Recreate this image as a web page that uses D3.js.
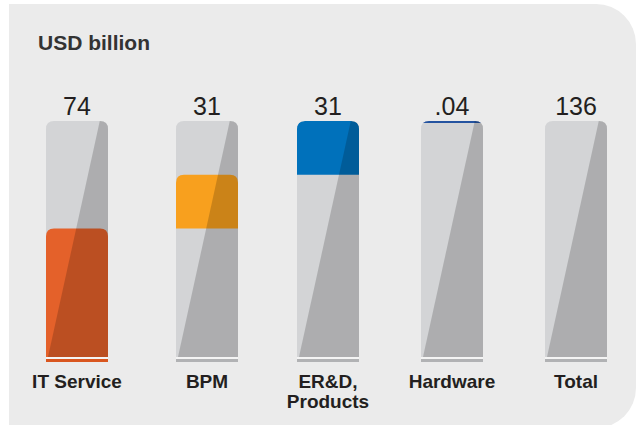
<!DOCTYPE html>
<html>
<head>
<meta charset="utf-8">
<script src="https://cdn.jsdelivr.net/npm/d3@7"></script>
<style>
  html, body { margin: 0; padding: 0; background: #ffffff; }
  svg { display: block; }
</style>
</head>
<body>
<svg id="chart" width="637" height="425"></svg>
<script>
// ---- data ----
const categories = ["IT Service", "BPM", "ER&D, Products", "Hardware", "Total"];
const values = [74, 31, 31, 0.04, 136];
const valueLabels = ["74", "31", "31", ".04", "136"];
const isTotal = [false, false, false, false, true];
const title = "USD billion";

// ---- styles / layout ----
const segColors = ["#e4612a", "#f8a01e", "#0071bb", "#2453a0", null];
const baseColors = ["#d9561f", "#b1b2b4", "#b1b2b4", "#b1b2b4", "#b1b2b4"];
const barCenters = [77, 207, 328, 452, 576];
const fontFamily = "'Liberation Sans', Arial, Helvetica, sans-serif";

const svg = d3.select("#chart");

// background panel
svg.append("path")
  .attr("d", "M9,4 H596 A40,40 0 0 1 636,44 V388 A40,40 0 0 1 596,428 H9 Z")
  .attr("fill", "#ebebeb");

const total = values[values.length - 1];
const x = d3.scaleOrdinal().domain(categories).range(barCenters);
const y = d3.scaleLinear().domain([0, total]).range([357, 121]);
const barW = 62, r = 8;

// cumulative offsets for waterfall
let cum = 0;
const data = categories.map((c, i) => {
  const d = { cat: c, value: values[i], label: valueLabels[i], i, total: isTotal[i] };
  if (!isTotal[i]) { d.start = cum; cum += values[i]; d.end = cum; }
  else { d.start = 0; d.end = values[i]; }
  return d;
});

function topRounded(x0, y0, w, h, rr) {
  rr = Math.min(rr, h, w / 2);
  return `M${x0},${y0 + h} V${y0 + rr} Q${x0},${y0} ${x0 + rr},${y0} H${x0 + w - rr} Q${x0 + w},${y0} ${x0 + w},${y0 + rr} V${y0 + h} Z`;
}

const defs = svg.append("defs");

data.forEach(d => {
  const cx = x(d.cat);
  const left = cx - barW / 2;
  const top = y(total), bottom = y(0);
  const g = svg.append("g");

  const clipId = "clip" + d.i;
  defs.append("clipPath").attr("id", clipId)
    .append("path").attr("d", topRounded(left, top, barW, bottom - top, r));

  const inner = g.append("g").attr("clip-path", `url(#${clipId})`);
  // tube
  inner.append("rect")
    .attr("x", left).attr("y", top).attr("width", barW).attr("height", bottom - top)
    .attr("fill", "#d3d4d6");

  // coloured segment
  if (!d.total && segColors[d.i]) {
    const y1 = y(d.end), y0 = y(d.start);
    const h = Math.max(2, y0 - y1);
    const segTop = Math.max(top, y1);
    inner.append("path")
      .attr("d", topRounded(left, segTop, barW, h, r))
      .attr("fill", segColors[d.i]);
  }

  // diagonal shading
  inner.append("path")
    .attr("d", `M${left + 54},${top - 1} H${left + barW + 1} V${bottom} H${left + 2} Z`)
    .attr("fill", "#000").attr("fill-opacity", 0.18);

  // gap + base line
  g.append("rect").attr("x", left).attr("y", bottom).attr("width", barW).attr("height", 2)
    .attr("fill", "#f4f4f4");
  g.append("rect").attr("x", left).attr("y", bottom + 2).attr("width", barW).attr("height", 3)
    .attr("fill", baseColors[d.i]);

  // value label
  svg.append("text")
    .attr("x", cx).attr("y", 115)
    .attr("text-anchor", "middle")
    .attr("font-family", fontFamily)
    .attr("font-size", 25)
    .attr("fill", "#231f20")
    .text(d.label);

  // category label (wraps on comma)
  const parts = d.cat.includes(", ") ? [d.cat.split(", ")[0] + ",", d.cat.split(", ")[1]] : [d.cat];
  const t = svg.append("text")
    .attr("x", cx).attr("y", 388)
    .attr("text-anchor", "middle")
    .attr("font-family", fontFamily)
    .attr("font-size", 19)
    .attr("font-weight", "bold")
    .attr("fill", "#231f20");
  parts.forEach((p, k) => {
    t.append("tspan").attr("x", cx).attr("dy", k === 0 ? 0 : 20).text(p);
  });
});

// title
svg.append("text")
  .attr("x", 38).attr("y", 50)
  .attr("font-family", fontFamily)
  .attr("font-size", 21)
  .attr("font-weight", "bold")
  .attr("fill", "#333333")
  .text(title);
</script>
</body>
</html>
